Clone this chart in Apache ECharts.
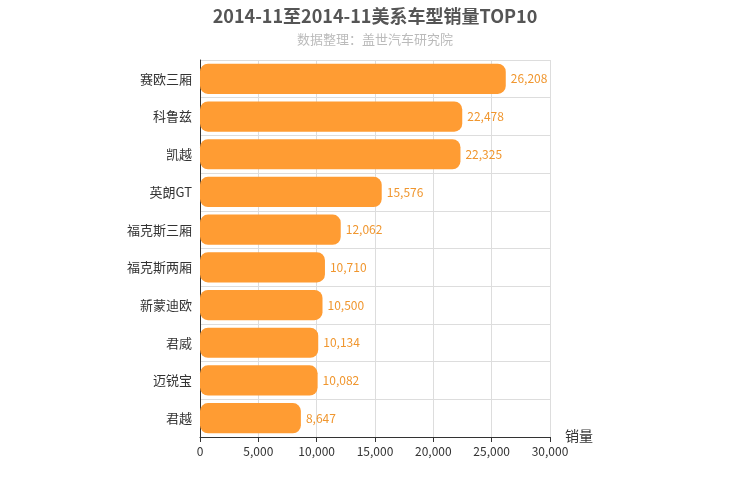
<!DOCTYPE html>
<html>
<head>
<meta charset="utf-8">
<script src="https://cdn.jsdelivr.net/npm/echarts@6/dist/echarts.min.js"></script>
<style>html,body{margin:0;padding:0;background:#fff}#main{width:750px;height:500px}</style>
</head>
<body>
<div id="main"></div>
<script>
var categories = ['赛欧三厢', '科鲁兹', '凯越', '英朗GT', '福克斯三厢', '福克斯两厢', '新蒙迪欧', '君威', '迈锐宝', '君越'];
var sales = [26208, 22478, 22325, 15576, 12062, 10710, 10500, 10134, 10082, 8647];
var xTicks = [0, 5000, 10000, 15000, 20000, 25000, 30000];

var myChart = echarts.init(document.getElementById('main'));
var font = '"Microsoft YaHei","Noto Sans CJK SC",sans-serif';
var option = {
    textStyle: {fontFamily: font},
    title: {
        text: '2014-11至2014-11美系车型销量TOP10',
        subtext: '数据整理：盖世汽车研究院',
        left: 'center',
        top: 2,
        itemGap: 8,
        textStyle: {fontSize: 18, fontWeight: 'bold', color: '#555', fontFamily: font},
        subtextStyle: {fontSize: 13, color: '#bbb', fontFamily: font}
    },
    grid: {left: 200, right: 200, top: 60, bottom: 63},
    xAxis: {
        type: 'value',
        min: xTicks[0],
        max: xTicks[xTicks.length - 1],
        interval: 5000,
        name: '销量',
        nameLocation: 'end',
        nameGap: 15,
        nameTextStyle: {fontSize: 14, color: '#333', verticalAlign: 'top', padding: [-8, 0, 0, 0]},
        axisLine: {show: true, lineStyle: {color: '#333'}},
        axisTick: {show: true},
        axisLabel: {color: '#333', fontSize: 12},
        splitLine: {lineStyle: {color: '#ddd'}}
    },
    yAxis: {
        type: 'category',
        inverse: true,
        data: categories,
        axisLine: {lineStyle: {color: '#333'}},
        axisLabel: {color: '#333', fontSize: 13},
        splitLine: {show: true, lineStyle: {color: '#ddd'}}
    },
    series: [{
        type: 'bar',
        data: sales,
        barWidth: '80%',
        itemStyle: {color: '#ff9c33', borderRadius: 8},
        label: {
            show: true,
            position: 'right',
            color: '#f0962e',
            fontSize: 12,
            formatter: function (p) { return p.value.toLocaleString('en-US'); }
        }
    }]
};
myChart.setOption(option);
</script>
</body>
</html>
